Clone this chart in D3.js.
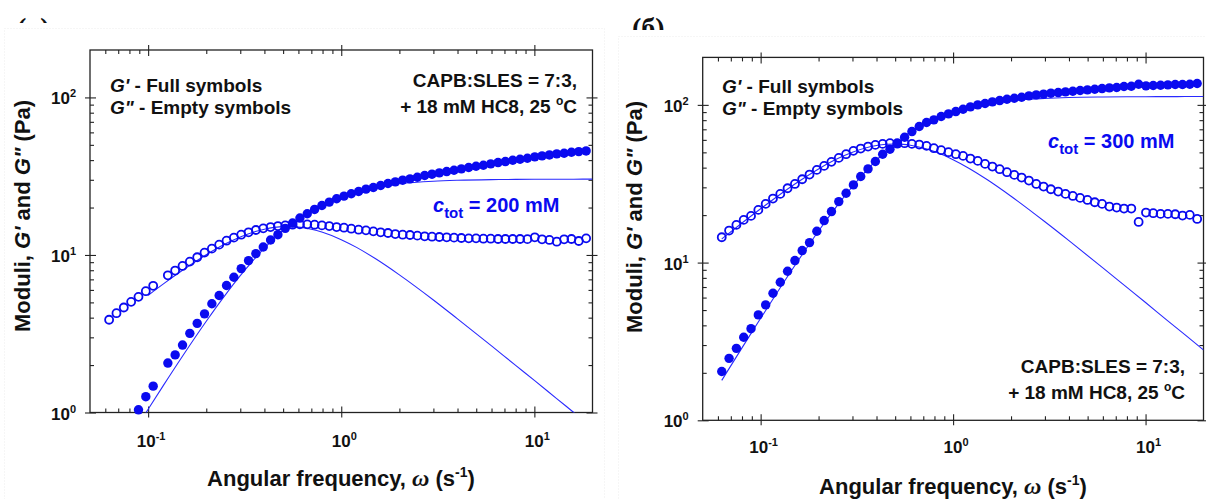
<!DOCTYPE html>
<html lang="en">
<head>
<meta charset="UTF-8"/>
<title>Frequency sweep G' and G''</title>
<script src="https://d3js.org/d3.v7.min.js"></script>
<style>
body { margin: 0; background: #fff; }
svg { display: block; }
text { font-family: 'Liberation Sans', Arial, sans-serif; font-weight: bold; fill: #111; }
text.ctot { fill: #0a0af0; font-size: 20px; }
text.tick { font-size: 17px; }
text.note { font-size: 19px; }
text.title { font-size: 22px; }
text.panel { font-family: 'Liberation Serif', 'Times New Roman', serif; font-size: 28px; }
</style>
</head>
<body>
<svg width="1206" height="499"></svg>
<script>
// angular frequencies of the sweep (rad/s), shared by both panels
const omega = [0.0628, 0.06855, 0.07482, 0.08166, 0.08913, 0.09727, 0.1062, 0.1159, 0.1265, 0.1380,
  0.1507, 0.1644, 0.1795, 0.1959, 0.2138, 0.2333, 0.2547, 0.2780, 0.3034, 0.3311,
  0.3614, 0.3945, 0.4305, 0.4699, 0.5129, 0.5598, 0.6109, 0.6668, 0.7278, 0.7943,
  0.8670, 0.9462, 1.033, 1.127, 1.230, 1.343, 1.466, 1.600, 1.746, 1.905,
  2.080, 2.270, 2.477, 2.704, 2.951, 3.221, 3.516, 3.837, 4.188, 4.571,
  4.989, 5.445, 5.943, 6.486, 7.079, 7.727, 8.433, 9.204, 10.05, 10.96,
  11.97, 13.06, 14.26, 15.56, 16.98, 18.54];

// (a) c_tot = 200 mM
const gpLeft = [null, null, null, null, 1.04, 1.26, 1.47, null, 2.06, 2.32,
  2.68, 3.18, 3.68, 4.23, 4.90, 5.53, 6.40, 7.22, 8.19, 9.21,
  10.20, 11.24, 12.44, 13.45, 14.75, 15.94, 17.15, 18.26, 19.45, 20.62,
  21.65, 22.73, 23.63, 24.45, 25.30, 26.17, 26.81, 27.60, 28.41, 29.12,
  29.83, 30.42, 31.15, 31.93, 32.56, 33.19, 33.84, 34.51, 35.18, 35.88,
  36.58, 37.12, 37.85, 38.59, 39.16, 39.93, 40.51, 41.11, 41.92, 42.54,
  43.15, 43.79, 44.21, 44.86, 45.31, 45.75];
const gppLeft = [3.88, 4.27, 4.64, 5.04, 5.42, 5.89, 6.37, null, 7.43, 7.96,
  8.52, 9.07, 9.67, 10.35, 10.97, 11.63, 12.32, 12.88, 13.45, 13.92,
  14.40, 14.75, 15.04, 15.26, 15.41, 15.56, 15.64, 15.64, 15.56, 15.41,
  15.26, 15.04, 14.89, 14.68, 14.47, 14.33, 14.12, 13.92, 13.78, 13.58,
  13.45, 13.39, 13.26, 13.13, 13.06, 13.00, 12.94, 12.88, 12.81, 12.75,
  12.75, 12.69, 12.69, 12.63, 12.63, 12.63, 12.63, 12.60, 12.94, 12.57,
  12.45, 12.14, 12.57, 12.63, 12.26, 12.75];

// (б) c_tot = 300 mM
const gpRight = [2.04, 2.47, 2.86, 3.36, 3.81, 4.66, 5.39, 6.39, 7.51, 8.81,
  10.30, 11.92, 13.39, 15.80, 18.47, 21.06, 24.37, 27.53, 31.09, 35.12,
  39.28, 43.72, 48.66, 52.34, 56.56, 62.36, 67.73, 72.88, 77.26, 80.34,
  84.34, 87.68, 90.71, 93.86, 97.11, 100.0, 101.97, 104.5, 106.5, 108.6,
  110.2, 111.8, 114.0, 115.7, 116.9, 118.6, 119.7, 120.9, 122.1, 123.3,
  124.5, 125.7, 126.9, 128.2, 128.8, 130.7, 131.3, 135.2, 131.9, 132.6,
  133.2, 133.9, 134.6, 134.6, 135.2, 136.6];
const gppRight = [14.48, 15.96, 17.34, 18.65, 19.77, 21.58, 23.56, 25.47, 27.26, 29.61,
  31.54, 33.77, 36.15, 38.70, 41.03, 43.51, 46.12, 48.66, 51.09, 52.84,
  54.41, 55.75, 56.56, 57.13, 57.13, 57.13, 56.56, 56.02, 54.95, 53.11,
  51.58, 50.10, 48.66, 47.49, 45.66, 44.13, 42.25, 40.64, 39.09, 37.41,
  35.97, 34.60, 33.13, 31.54, 30.34, 29.18, 28.20, 27.26, 26.47, 25.71,
  24.97, 24.14, 23.56, 22.66, 22.33, 22.01, 22.01, 18.11, 20.76, 20.56,
  20.36, 20.36, 20.26, 19.87, 20.06, 18.92];

// Maxwell fit lines (null = not drawn)
const fitOmega = [0.0628, 0.08, 0.1, 0.12, 0.15, 0.2, 0.25, 0.3, 0.35, 0.4,
  0.45, 0.5, 0.55, 0.6, 0.7, 0.8, 1.0, 1.2, 1.5, 2,
  3, 4, 6, 8, 10, 13, 16, 20];
const fitGpLeft = [0.422, 0.679, 1.048, 1.487, 2.261, 3.798, 5.545, 7.389, 9.244, 11.04,
  12.74, 14.32, 15.76, 17.07, 19.31, 21.10, 23.69, 25.38, 26.96, 28.32,
  29.39, 29.78, 30.07, 30.17, 30.22, 30.25, 30.27, 30.28];
const fitGppLeft = [null, null, 5.54, 6.55, 7.96, 10.03, 11.72, 13.01, 13.95, 14.58,
  14.96, 15.13, 15.14, 15.03, 14.57, 13.93, 12.51, 11.17, 9.49, 7.48,
  5.18, 3.93, 2.65, 1.99, 1.60, 1.23, 1.00, 0.80];
const fitGpRight = [1.792, 2.879, 4.434, 6.278, 9.511, 15.87, 22.98, 30.37, 37.69, 44.66,
  51.16, 57.09, 62.45, 67.26, 75.35, 81.73, 90.78, 96.58, 101.9, 106.5,
  110.0, 111.3, 112.2, 112.6, 112.7, 112.8, 112.9, 112.9];
const fitGppRight = [14.11, 17.81, 21.94, 25.88, 31.38, 39.26, 45.49, 50.10, 53.28, 55.25,
  56.25, 56.50, 56.19, 55.47, 53.26, 50.55, 44.92, 39.82, 33.62, 26.34,
  18.14, 13.77, 9.26, 6.96, 5.58, 4.29, 3.49, 2.79];

// axes
const xDomain = [0.05, 20];
const yDomain = [1, 200];
const xMajor = [0.1, 1, 10];
const xMinor = [0.06, 0.07, 0.08, 0.09, 0.2, 0.3, 0.4, 0.5, 0.6, 0.7, 0.8, 0.9, 2, 3, 4, 5, 6, 7, 8, 9];
const yMajor = [1, 10, 100];
const yMinor = [2, 3, 4, 5, 6, 7, 8, 9, 20, 30, 40, 50, 60, 70, 80, 90];
const xTickExp = ['-1', '0', '1'];
const yTickExp = ['0', '1', '2'];

const BLUE = '#0a0af0';
const AXIS = '#222';
const svg = d3.select('svg');

// faint frames of the two figure pictures
svg.append('rect').attr('x', 4.5).attr('y', 28.5).attr('width', 600).attr('height', 480)
  .attr('fill', 'none').attr('stroke', '#ededed').attr('stroke-dasharray', '1,2');
svg.append('rect').attr('x', 618.5).attr('y', 36.5).attr('width', 600).attr('height', 480)
  .attr('fill', 'none').attr('stroke', '#ededed').attr('stroke-dasharray', '1,2');

// panel letters, cut off at the top of the pictures
const defs = svg.append('defs');
defs.append('clipPath').attr('id', 'cutA').append('rect').attr('x', 0).attr('y', 0).attr('width', 100).attr('height', 23);
defs.append('clipPath').attr('id', 'cutB').append('rect').attr('x', 600).attr('y', 0).attr('width', 100).attr('height', 30);
svg.append('text').attr('class', 'panel').attr('x', 17).attr('y', 37).attr('clip-path', 'url(#cutA)').text('(а)');
svg.append('text').attr('class', 'panel').attr('x', 632).attr('y', 37).attr('clip-path', 'url(#cutB)').text('(б)');

function power(sel, exp) {
  sel.append('tspan').text('10');
  sel.append('tspan').attr('dy', -7).attr('font-size', 11).text(exp);
}

function drawPanel(p) {
  const x = d3.scaleLog().domain(xDomain).range([p.left, p.right]);
  const y = d3.scaleLog().domain(yDomain).range([p.bottom, p.top]);
  const g = svg.append('g');

  defs.append('clipPath').attr('id', 'plot' + p.id).append('rect')
    .attr('x', p.left).attr('y', p.top)
    .attr('width', p.right - p.left).attr('height', p.bottom - p.top);

  // ticks on all four sides: majors cross the frame, minors point in
  const tickSet = (axis, scale, values, size, tr) => {
    g.append('g').attr('transform', tr)
      .call(axis(scale).tickValues(values).tickSize(size).tickSizeOuter(0).tickFormat(''))
      .call(a => a.select('.domain').remove())
      .selectAll('line').attr('stroke', AXIS).attr('stroke-width', 1.1);
  };
  [[d3.axisBottom, `translate(0,${p.bottom})`], [d3.axisTop, `translate(0,${p.top})`]].forEach(([ax, tr]) => {
    tickSet(ax, x, xMajor, 5, tr);
    tickSet(ax, x, xMajor, -6, tr);
    tickSet(ax, x, xMinor, -4, tr);
  });
  [[d3.axisLeft, `translate(${p.left},0)`], [d3.axisRight, `translate(${p.right},0)`]].forEach(([ax, tr]) => {
    tickSet(ax, y, yMajor, 5, tr);
    tickSet(ax, y, yMajor, -6, tr);
    tickSet(ax, y, yMinor, -4, tr);
  });

  g.append('rect')
    .attr('x', p.left).attr('y', p.top)
    .attr('width', p.right - p.left).attr('height', p.bottom - p.top)
    .attr('fill', 'none').attr('stroke', AXIS).attr('stroke-width', 1.3);

  // tick labels
  xMajor.forEach((v, i) => {
    g.append('text').attr('class', 'tick').attr('x', x(v) + 3).attr('y', p.bottom + p.xLabelDy)
      .attr('text-anchor', 'middle').call(power, xTickExp[i]);
  });
  yMajor.forEach((v, i) => {
    g.append('text').attr('class', 'tick').attr('x', p.left - 14).attr('y', y(v) + 7)
      .attr('text-anchor', 'end').call(power, yTickExp[i]);
  });

  // axis titles
  const xt = g.append('text').attr('class', 'title')
    .attr('x', p.xTitle[0]).attr('y', p.xTitle[1]).attr('text-anchor', 'middle');
  xt.append('tspan').text('Angular frequency, ');
  xt.append('tspan').attr('font-family', "'Liberation Serif', serif").attr('font-style', 'italic')
    .attr('font-size', 24).text('ω');
  xt.append('tspan').text(' (s');
  xt.append('tspan').attr('dy', -9).attr('font-size', 14).text('-1');
  xt.append('tspan').attr('dy', 9).text(')');

  const yt = g.append('text').attr('class', 'title')
    .attr('transform', `translate(${p.yTitle[0]},${p.yTitle[1]}) rotate(-90)`)
    .attr('text-anchor', 'middle').attr('font-size', 20);
  yt.append('tspan').text('Moduli, ');
  yt.append('tspan').attr('font-style', 'italic').text("G'");
  yt.append('tspan').text(' and ');
  yt.append('tspan').attr('font-style', 'italic').text('G"');
  yt.append('tspan').text(' (Pa)');

  // fit lines
  const line = d3.line()
    .defined(d => d[1] != null)
    .x(d => x(d[0])).y(d => y(d[1]))
    .curve(d3.curveMonotoneX);
  [p.fitGp, p.fitGpp].forEach(vals => {
    g.append('path')
      .datum(fitOmega.map((w, i) => [w, vals[i]]).filter(d => d[1] != null))
      .attr('clip-path', `url(#plot${p.id})`)
      .attr('d', line)
      .attr('fill', 'none').attr('stroke', '#2a2aff').attr('stroke-width', 1.1);
  });

  // data: G'' empty symbols, G' full symbols
  const pts = vals => omega.map((w, i) => [w, vals[i]]).filter(d => d[1] != null && d[1] >= 1);
  g.append('g').selectAll('circle').data(pts(p.gpp)).join('circle')
    .attr('cx', d => x(d[0])).attr('cy', d => y(d[1])).attr('r', 4.0)
    .attr('fill', 'none').attr('stroke', BLUE).attr('stroke-width', 1.8);
  g.append('g').selectAll('circle').data(pts(p.gp)).join('circle')
    .attr('cx', d => x(d[0])).attr('cy', d => y(d[1])).attr('r', 4.7)
    .attr('fill', BLUE);

  // notes
  const leg = g.append('text').attr('class', 'note').attr('x', p.legend[0]).attr('y', p.legend[1]);
  leg.append('tspan').attr('font-style', 'italic').text("G'");
  leg.append('tspan').text(' - Full symbols');
  const leg2 = g.append('text').attr('class', 'note').attr('x', p.legend[0]).attr('y', p.legend[1] + 22);
  leg2.append('tspan').attr('font-style', 'italic').text('G"');
  leg2.append('tspan').text(' - Empty symbols');

  g.append('text').attr('class', 'note').attr('x', p.capb[0]).attr('y', p.capb[1])
    .attr('text-anchor', 'end').text('CAPB:SLES = 7:3,');
  const c2 = g.append('text').attr('class', 'note').attr('x', p.capb[0]).attr('y', p.capb[1] + 26)
    .attr('text-anchor', 'end');
  c2.append('tspan').text('+ 18 mM HC8, 25 ');
  c2.append('tspan').attr('dy', -8).attr('font-size', 12).text('o');
  c2.append('tspan').attr('dy', 8).text('C');

  const ct = g.append('text').attr('class', 'ctot').attr('x', p.ctot[0]).attr('y', p.ctot[1]);
  ct.append('tspan').attr('font-style', 'italic').text('c');
  ct.append('tspan').attr('dy', 6).attr('font-size', 15).text('tot');
  ct.append('tspan').attr('dy', -6).text(' = ' + p.ctotText);
}

drawPanel({
  id: 'A', left: 90, right: 592.5, top: 50, bottom: 412.5,
  gp: gpLeft, gpp: gppLeft, fitGp: fitGpLeft, fitGpp: fitGppLeft,
  xLabelDy: 34, xTitle: [341, 486], yTitle: [30, 216],
  legend: [110, 92], capb: [577, 87], ctot: [433, 212], ctotText: '200 mM'
});
drawPanel({
  id: 'B', left: 702.7, right: 1203.5, top: 57.4, bottom: 420.3,
  gp: gpRight, gpp: gppRight, fitGp: fitGpRight, fitGpp: fitGppRight,
  xLabelDy: 33, xTitle: [953, 494], yTitle: [642, 217],
  legend: [722, 93], capb: [1185, 373], ctot: [1048, 148], ctotText: '300 mM'
});
</script>
</body>
</html>
